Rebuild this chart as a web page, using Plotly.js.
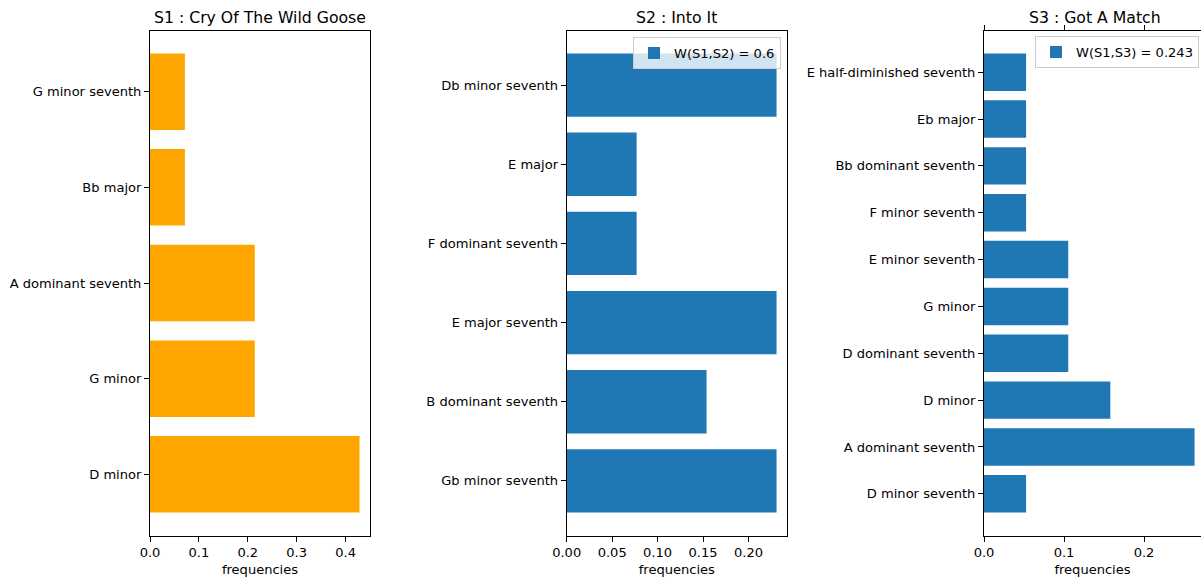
<!DOCTYPE html>
<html>
<head>
<meta charset="utf-8">
<script src="https://cdn.plot.ly/plotly-3.0.1.min.js"></script>
<style>html,body{margin:0;padding:0;background:#fff;}#chart{width:1201px;height:579px;}</style>
</head>
<body>
<div id="chart"></div>
<script>
const s1Labels = ["D minor","G minor","A dominant seventh","Bb major","G minor seventh"];
const s1Values = [0.4286,0.2143,0.2143,0.0714,0.0714];
const s2Labels = ["Gb minor seventh","B dominant seventh","E major seventh","F dominant seventh","E major","Db minor seventh"];
const s2Values = [0.2308,0.1538,0.2308,0.0769,0.0769,0.2308];
const s3Labels = ["D minor seventh","A dominant seventh","D minor","D dominant seventh","G minor","E minor seventh","F minor seventh","Bb dominant seventh","Eb major","E half-diminished seventh"];
const s3Values = [0.0526,0.2632,0.1579,0.1053,0.1053,0.1053,0.0526,0.0526,0.0526,0.0526];
const titles = ["S1 : Cry Of The Wild Goose","S2 : Into It","S3 : Got A Match"];
const legendNames = ["W(S1,S2) = 0.6","W(S1,S3) = 0.243"];

const W = 1201, H = 579;
const FONT = "DejaVu Sans, sans-serif";
const fs = 13.05;

const traces = [
  {type:'bar', orientation:'h', x:s1Values, y:s1Labels, xaxis:'x', yaxis:'y', marker:{color:'#FFA500'}, showlegend:false},
  {type:'bar', orientation:'h', x:s2Values, y:s2Labels, xaxis:'x2', yaxis:'y2', marker:{color:'#1f77b4'}, name:legendNames[0], legend:'legend', showlegend:true},
  {type:'bar', orientation:'h', x:s3Values, y:s3Labels, xaxis:'x3', yaxis:'y3', marker:{color:'#1f77b4'}, name:legendNames[1], legend:'legend2', showlegend:true}
];

const yTop = 1 - 30.5/H, yBot = 1 - 535.5/H;
const doms = [[150/W, 370/W],[566.7/W, 787/W],[984/W, 1]];

function xax(dom, range, fmt, dtick, anchor, mirror){
  return {domain:dom, range:range, anchor:anchor, tickformat:fmt, dtick:dtick, tick0:0,
    showline:true, linecolor:'#000', linewidth:1, mirror:mirror, ticks:'outside', ticklen:5, tickcolor:'#000',
    showgrid:false, zeroline:false, tickfont:{family:FONT,size:fs,color:'#000'},
    title:{text:'frequencies', font:{family:FONT,size:fs,color:'#000'}, standoff:5}, automargin:false, fixedrange:true};
}
function yax(n, labels, anchor, mirror){
  const span = n - 0.2, m = span*0.05;
  return {domain:[yBot,yTop], type:'category', categoryorder:'array', categoryarray:labels,
    range:[-0.4-m, n-1+0.4+m], anchor:anchor, showline:true, linecolor:'#000', linewidth:1, mirror:mirror,
    ticks:'outside', ticklen:5, tickcolor:'#000', showgrid:false, zeroline:false,
    tickfont:{family:FONT,size:fs,color:'#000'}, automargin:false, fixedrange:true};
}

const layout = {
  width:W, height:H, margin:{l:0,r:0,t:0,b:0}, paper_bgcolor:'#fff', plot_bgcolor:'#fff',
  bargap:0.2, font:{family:FONT,size:fs,color:'#000'},
  xaxis: xax(doms[0],[0,0.45],'.1f',0.1,'y',true),
  yaxis: yax(s1Labels.length, s1Labels, 'x', true),
  xaxis2: xax(doms[1],[0,0.2423],'.2f',0.05,'y2',true),
  yaxis2: yax(s2Labels.length, s2Labels, 'x2', true),
  xaxis3: xax(doms[2],[0,(W-984)/800],'.1f',0.1,'y3','allticks'),
  yaxis3: yax(s3Labels.length, s3Labels, 'x3', false),
  legend:{x:781/W, xanchor:'right', y:1-37/H, yanchor:'top', bgcolor:'rgba(255,255,255,0.8)', bordercolor:'#cccccc', borderwidth:1,
    font:{family:FONT,size:fs,color:'#000'}, tracegroupgap:0, itemwidth:30},
  legend2:{x:1199/W, xanchor:'right', y:1-36/H, yanchor:'top', bgcolor:'rgba(255,255,255,0.8)', bordercolor:'#cccccc', borderwidth:1,
    font:{family:FONT,size:fs,color:'#000'}, tracegroupgap:0, itemwidth:30},
  annotations: titles.map((t,i)=>({text:t, xref:'paper', yref:'paper', x:(i<2?(doms[i][0]+doms[i][1])/2:(984+1205)/2/W), y:1-17/H,
    xanchor:'center', yanchor:'middle', showarrow:false, font:{family:FONT,size:15.7,color:'#000'}}))
};

Plotly.newPlot('chart', traces, layout, {displayModeBar:false, staticPlot:true});
</script>
</body>
</html>
